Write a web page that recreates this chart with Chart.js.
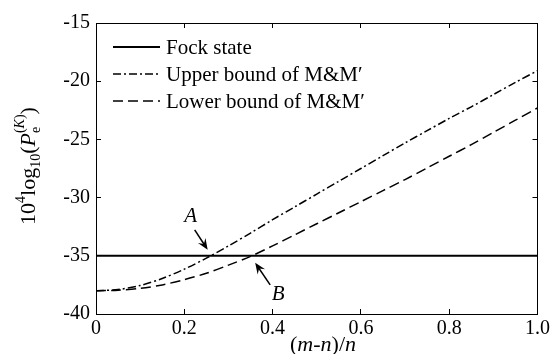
<!DOCTYPE html>
<html>
<head>
<meta charset="utf-8">
<script src="https://cdn.jsdelivr.net/npm/chart.js@4.4.0/dist/chart.umd.min.js"></script>
<style>
  html, body { margin: 0; padding: 0; background: #fff; }
  #wrap { width: 558px; height: 354px; }
</style>
</head>
<body>
<div id="wrap"><canvas id="chart" width="558" height="354"></canvas></div>
<script>
// values
const xValues = [0, 0.05, 0.1, 0.15, 0.2, 0.25, 0.3, 0.35, 0.4, 0.45, 0.5, 0.55, 0.6, 0.65, 0.7, 0.75, 0.8, 0.85, 0.9, 0.95, 1.0];
const fockValues = [-35, -35, -35, -35, -35, -35, -35, -35, -35, -35, -35, -35, -35, -35, -35, -35, -35, -35, -35, -35, -35];
const upperValues = [-38.0, -37.9, -37.55, -36.95, -36.15, -35.2, -34.15, -33.05, -31.9, -30.8, -29.7, -28.6, -27.5, -26.4, -25.3, -24.25, -23.2, -22.2, -21.15, -20.1, -19.1];
const lowerValues = [-38.0, -37.95, -37.8, -37.5, -37.05, -36.5, -35.8, -35.05, -34.15, -33.2, -32.25, -31.3, -30.35, -29.4, -28.45, -27.45, -26.45, -25.45, -24.4, -23.35, -22.3];
const seriesLabels = ['Fock state', 'Upper bound of M&M\u2032', 'Lower bound of M&M\u2032'];
const xTicks = [0, 0.2, 0.4, 0.6, 0.8, 1.0];
const yTicks = [-40, -35, -30, -25, -20, -15];
const markers = [
  { name: 'A', x: 0.262, y: -35 },
  { name: 'B', x: 0.356, y: -35 }
];

const FONT = 'Liberation Serif, Times New Roman, serif';

function pts(ys) {
  return xValues.map((x, i) => ({ x: x, y: ys[i] }));
}

function setFont(ctx, p) {
  ctx.font = (p.italic ? 'italic ' : '') + p.size + 'px ' + FONT;
}

// draws pieces left to right; a group holds a subscript and a superscript stacked
function drawRich(ctx, pieces, x0, y0, measureOnly) {
  let x = x0;
  pieces.forEach(p => {
    if (p.sub) {
      let w1 = 0, w2 = 0;
      p.sub.forEach(q => {
        setFont(ctx, q);
        if (!measureOnly) ctx.fillText(q.t, x + w1, y0 + q.dy);
        w1 += ctx.measureText(q.t).width;
      });
      p.sup.forEach(q => {
        setFont(ctx, q);
        if (!measureOnly) ctx.fillText(q.t, x + w2, y0 + q.dy);
        w2 += ctx.measureText(q.t).width;
      });
      x += Math.max(w1, w2);
      return;
    }
    setFont(ctx, p);
    if (!measureOnly) ctx.fillText(p.t, x, y0 + (p.dy || 0));
    x += ctx.measureText(p.t).width;
  });
  return x - x0;
}

const yTitle = [
  { t: '10', size: 22 },
  { t: '4', size: 14, dy: -10 },
  { t: 'log', size: 22 },
  { t: '10', size: 14, dy: 5 },
  { t: '(', size: 22 },
  { t: 'P', size: 22, italic: true },
  {
    sub: [{ t: 'e', size: 14, dy: 5 }],
    sup: [{ t: '(', size: 14, dy: -11 }, { t: 'K', size: 14, dy: -11, italic: true }, { t: ')', size: 14, dy: -11 }]
  },
  { t: ')', size: 22 }
];
const xTitle = [
  { t: '(', size: 22 },
  { t: 'm', size: 22, italic: true },
  { t: '-', size: 22 },
  { t: 'n', size: 22, italic: true },
  { t: ')/', size: 22 },
  { t: 'n', size: 22, italic: true }
];

const extrasPlugin = {
  id: 'extras',
  afterDraw(chart) {
    const ctx = chart.ctx;
    const a = chart.chartArea;
    const xs = chart.scales.x;
    const ys = chart.scales.y;
    ctx.save();
    ctx.fillStyle = '#000';
    ctx.strokeStyle = '#000';

    // legend
    ctx.textBaseline = 'middle';
    ctx.textAlign = 'left';
    chart.data.datasets.forEach((ds, i) => {
      const y = a.top + 24 + i * 27;
      ctx.save();
      ctx.lineWidth = ds.borderWidth;
      ctx.setLineDash(ds.borderDash || []);
      ctx.beginPath();
      ctx.moveTo(a.left + 17, y);
      ctx.lineTo(a.left + 64, y);
      ctx.stroke();
      ctx.restore();
      ctx.font = '21px ' + FONT;
      ctx.fillText(ds.label, a.left + 70, y + 1);
    });

    // arrows A and B
    const offs = {
      A: { tip: [-4, -6], tail: [-17, -26], label: [-21, -39] },
      B: { tip: [2, 7], tail: [17, 29], label: [25, 39] }
    };
    markers.forEach(m => {
      const cx = xs.getPixelForValue(m.x);
      const cy = ys.getPixelForValue(m.y);
      const o = offs[m.name];
      const tx = cx + o.tip[0], ty = cy + o.tip[1];
      const sx = cx + o.tail[0], sy = cy + o.tail[1];
      const ang = Math.atan2(ty - sy, tx - sx);
      const c = Math.cos(ang), s = Math.sin(ang);
      ctx.lineWidth = 1.5;
      ctx.beginPath();
      ctx.moveTo(sx, sy);
      ctx.lineTo(tx - 6 * c, ty - 6 * s);
      ctx.stroke();
      ctx.beginPath();
      ctx.moveTo(tx, ty);
      ctx.lineTo(tx - 11 * c + 4.5 * s, ty - 11 * s - 4.5 * c);
      ctx.lineTo(tx - 7 * c, ty - 7 * s);
      ctx.lineTo(tx - 11 * c - 4.5 * s, ty - 11 * s + 4.5 * c);
      ctx.closePath();
      ctx.fill();
      ctx.font = 'italic 21px ' + FONT;
      ctx.textAlign = 'center';
      ctx.textBaseline = 'middle';
      ctx.fillText(m.name, cx + o.label[0], cy + o.label[1]);
    });

    // axis titles
    ctx.textAlign = 'left';
    ctx.textBaseline = 'alphabetic';
    const xw = drawRich(ctx, xTitle, 0, 0, true);
    drawRich(ctx, xTitle, 323 - xw / 2, 351, false);

    const yw = drawRich(ctx, yTitle, 0, 0, true);
    ctx.translate(35, 166);
    ctx.rotate(-Math.PI / 2);
    drawRich(ctx, yTitle, -yw / 2, 0, false);
    ctx.restore();
  }
};

// box + inward ticks on every side come from the axes themselves
const boxGrid = { display: true, drawOnChartArea: false, drawTicks: true, tickLength: -5, color: '#000', tickColor: '#000', tickWidth: 1 };
const boxBorder = { display: true, color: '#000', width: 1 };
const setX = s => { s.ticks = xTicks.map(v => ({ value: v })); };
const setY = s => { s.ticks = yTicks.map(v => ({ value: v })); };

new Chart(document.getElementById('chart'), {
  type: 'line',
  data: {
    datasets: [
      { label: seriesLabels[0], data: pts(fockValues), borderColor: '#000', borderWidth: 2, pointRadius: 0, tension: 0 },
      { label: seriesLabels[1], data: pts(upperValues), borderColor: '#000', borderWidth: 1.5, borderDash: [8, 3, 2, 3], pointRadius: 0, tension: 0.3 },
      { label: seriesLabels[2], data: pts(lowerValues), borderColor: '#000', borderWidth: 1.5, borderDash: [10, 5], pointRadius: 0, tension: 0.3 }
    ]
  },
  options: {
    responsive: false,
    animation: false,
    devicePixelRatio: 1,
    layout: { autoPadding: false, padding: { left: 53, right: 10, top: 17, bottom: 2 } },
    plugins: { legend: { display: false }, tooltip: { enabled: false } },
    scales: {
      x: {
        type: 'linear', position: 'bottom', min: 0, max: 1,
        afterBuildTicks: setX,
        afterFit: s => { s.height = 38; },
        grid: boxGrid, border: boxBorder,
        ticks: {
          padding: 8, color: '#000', maxRotation: 0,
          font: { family: FONT, size: 20 },
          callback: v => v === 0 ? '0' : v.toFixed(1)
        }
      },
      x2: {
        type: 'linear', position: 'top', min: 0, max: 1,
        afterBuildTicks: setX,
        afterFit: s => { s.height = 0; },
        grid: boxGrid, border: boxBorder,
        ticks: { display: false }
      },
      y: {
        position: 'left', min: -40, max: -15,
        afterBuildTicks: setY,
        afterFit: s => { s.width = 43; },
        grid: boxGrid, border: boxBorder,
        ticks: {
          padding: 11, color: '#000',
          font: { family: FONT, size: 20 },
          callback: v => String(v)
        }
      },
      y2: {
        position: 'right', min: -40, max: -15,
        afterBuildTicks: setY,
        afterFit: s => { s.width = 0; },
        grid: boxGrid, border: boxBorder,
        ticks: { display: false }
      }
    }
  },
  plugins: [extrasPlugin]
});
</script>
</body>
</html>
